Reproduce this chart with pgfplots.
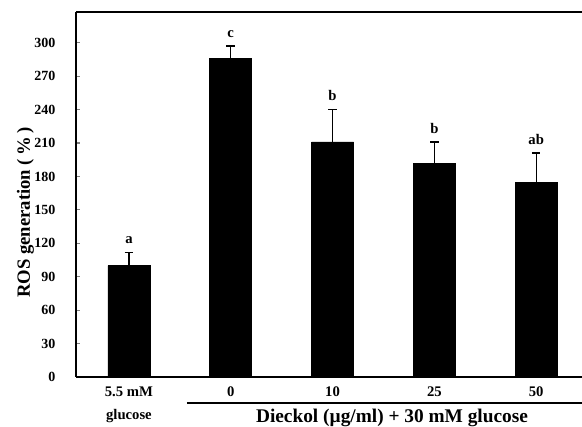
\documentclass[border=0pt]{standalone}
\usepackage{fontspec}
\setmainfont{Liberation Serif}
\usepackage{pgfplots}
\pgfplotsset{compat=1.18}
\begin{document}
\begin{tikzpicture}
\begin{axis}[
  scale only axis, width=379.5pt, height=273.75pt,
  at={(0,0)}, anchor=south west,
  xmin=-0.52, xmax=4.45, ymin=0, ymax=327.6,
  axis x line*=bottom, axis y line*=left,
  axis line style={line width=1pt},
  ytick={0,30,...,300},
  xtick={0,1,2,3,4},
  xticklabels={{5.5 mM\\glucose},0,10,25,50},
  xticklabel style={align=center, font=\bfseries\fontsize{11}{17}\selectfont, yshift=-4pt},
  yticklabel style={font=\bfseries\fontsize{10.5}{11}\selectfont, xshift=-12pt},
  /pgf/number format/assume math mode=true,
  tick align=inside,
  major tick length=3pt,
  x tick style={draw=none},
  y tick style={line width=0.8pt},
  ylabel={ROS generation (\,\%\,)},
  ylabel style={font=\bfseries\fontsize{14}{16}\selectfont, at={(axis description cs:-0.1,0.45)}, anchor=center},
  clip=false,
]
\addplot[ybar, bar width=31.5pt, fill=black, draw=black,
  error bars/.cd, y dir=plus, y explicit,
  error bar style={line width=0.9pt},
  error mark options={rotate=90, mark size=3.2pt, line width=0.9pt}]
  coordinates {
  (0,100) +- (0,12)
  (1,286) +- (0,11)
  (2,211) +- (0,29)
  (3,192) +- (0,19)
  (4,175) +- (0,26)
};
\addplot[draw=none, mark=none, nodes near coords, point meta=explicit symbolic,
  nodes near coords style={anchor=south, font=\bfseries\fontsize{11}{13}\selectfont, yshift=3pt}]
  coordinates {
  (0,112) [a]
  (1,297) [c]
  (2,240) [b]
  (3,211) [b]
  (4,201) [ab]
};
\draw[line width=1pt] (rel axis cs:0,1) -- (rel axis cs:1,1);
\draw[line width=0.9pt] ([yshift=-19.5pt]rel axis cs:0.219,0) -- ([yshift=-19.5pt]rel axis cs:1,0);
\node[font=\bfseries\fontsize{14.5}{16}\selectfont] at ([yshift=-30.5pt]rel axis cs:0.6245,0) {Dieckol (µg/ml) + 30 mM glucose};
\end{axis}
\pgfresetboundingbox
\path (-57pt,-37.5pt) rectangle (379.5pt,282.75pt);
\end{tikzpicture}
\end{document}
